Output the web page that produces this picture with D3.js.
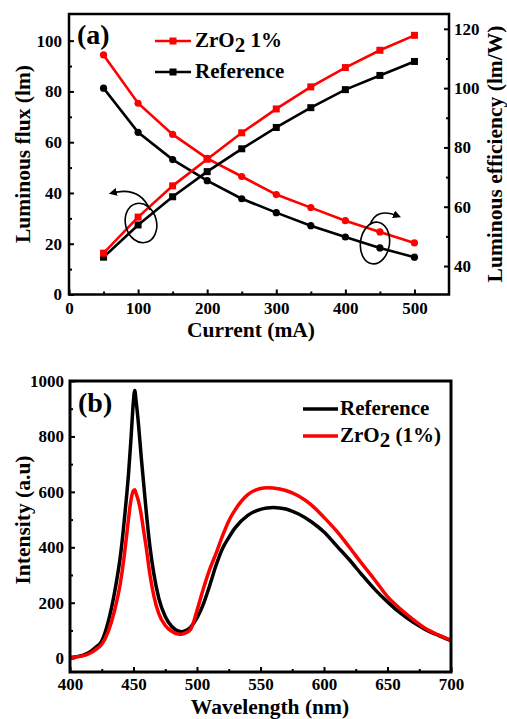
<!DOCTYPE html>
<html><head><meta charset="utf-8">
<script src="https://cdn.jsdelivr.net/npm/d3@7"></script>
<style>
body{margin:0;background:#fff}
svg text{font-family:"Liberation Serif","Times New Roman",serif;font-weight:bold;fill:#000}
</style>
</head><body>
<svg id="c" width="507" height="719"></svg>
<script>
// ---- panel (a): LED output vs drive current ----
const current   = [50,100,150,200,250,300,350,400,450,500];
const fluxZrO2  = [16.3,30.5,42.8,53.3,63.7,73.1,81.8,89.4,96.2,102.1];
const fluxRef   = [14.7,27.4,38.5,48.4,57.4,65.8,73.6,80.7,86.3,91.8];
const effZrO2   = [111.2,94.9,84.4,76.3,70.2,64.1,59.7,55.3,51.5,47.8];
const effRef    = [100.0,85.1,75.9,68.8,62.7,58.0,53.6,49.8,46.1,43.0];
const currentTicks = [0,100,200,300,400,500];
const fluxTicks    = [0,20,40,60,80,100];
const effTicks     = [40,60,80,100,120];

// ---- panel (b): emission spectra ----
const wavelength = [400,405,410,415,420,425,430,435,440,443,446,448,450,451,452,454,456,458,460,463,466,470,475,480,485,488,490,495,500,505,510,515,520,525,530,540,550,555,560,570,580,590,600,610,620,630,640,650,660,670,680,690,700];
const intensityRef  = [2,5,10,20,38,62,130,235,380,510,660,790,930,966,930,840,730,630,530,400,305,215,150,115,98,95,97,112,145,195,262,335,395,435,470,515,537,542,544,538,520,492,455,405,355,300,248,203,163,130,103,82,63];
const intensityZrO2 = [2,4,8,16,30,50,95,170,280,380,500,570,605,608,595,565,520,460,400,300,225,160,118,97,87,86,89,104,172,250,320,378,440,495,535,590,612,615,614,605,585,553,508,458,400,340,282,222,178,140,107,84,65];
const waveTicks = [400,450,500,550,600,650,700];
const intTicks  = [0,200,400,600,800,1000];

const RED = "#ff0000", BLACK = "#000";
const FONT = "'Liberation Serif','Times New Roman',serif";
const TICK_FS = 17, TITLE_FS = 21.5, LEGEND_FS = 21;
const svg = d3.select("#c");
const fmt = d3.format("d");

function subscriptLabel(sel, parts) {
  // parts: [text, isSub]; a subscript drops below the baseline, the next part returns to it
  let prevSub = false;
  parts.forEach(([t, sub]) => {
    const ts = sel.append("tspan").text(t);
    if (sub) ts.attr("dy", 5);
    else if (prevSub) ts.attr("dy", -5);
    prevSub = sub;
  });
}

function styleAxis(g) {
  g.attr("font-family", FONT).attr("font-size", TICK_FS);
  g.select(".domain").remove();
  g.selectAll("line").attr("stroke", "#000").attr("stroke-width", 2);
  g.selectAll("text").style("font-family", FONT).style("font-size", TICK_FS + "px").style("font-weight", "bold");
}

function label(g, x, y, fs, txt, anchor, rot) {
  const t = g.append("text").style("font-family", FONT).style("font-weight","bold").style("font-size", fs+"px");
  if (rot) t.attr("transform", `translate(${x},${y}) rotate(${rot})`);
  else t.attr("x", x).attr("y", y);
  if (anchor) t.attr("text-anchor", anchor);
  if (txt) t.text(txt);
  return t;
}

function legendRow(g, x1, x2, y, color, marker, tx, parts, lw) {
  g.append("line").attr("x1",x1).attr("x2",x2).attr("y1",y).attr("y2",y).attr("stroke",color).attr("stroke-width",lw);
  if (marker === "square")
    g.append("rect").attr("x",(x1+x2)/2-3.5).attr("y",y-3.5).attr("width",7).attr("height",7).attr("fill",color);
  subscriptLabel(label(g, tx, y+6, LEGEND_FS), parts);
}

// ================= Panel (a) =================
const A = {l:69, r:449, t:14, b:294.5};
const xA = d3.scaleLinear().domain([0,550]).range([A.l, A.r]);
const yL = d3.scaleLinear().domain([0,110.5]).range([A.b, A.t]);
const yR = d3.scaleLinear().domain([30.4,125]).range([A.b, A.t]);

const gA = svg.append("g");
// major and minor ticks, all pointing inward
gA.append("g").attr("transform", `translate(0,${A.b})`)
  .call(d3.axisBottom(xA).tickValues(currentTicks).tickFormat(fmt).tickSize(-5).tickPadding(7)).call(styleAxis);
gA.append("g").attr("transform", `translate(0,${A.b})`)
  .call(d3.axisBottom(xA).tickValues(d3.range(50,550,100)).tickSize(-3).tickFormat("")).call(styleAxis);
gA.append("g").attr("transform", `translate(${A.l},0)`)
  .call(d3.axisLeft(yL).tickValues(fluxTicks).tickFormat(fmt).tickSize(-5).tickPadding(7)).call(styleAxis);
gA.append("g").attr("transform", `translate(${A.l},0)`)
  .call(d3.axisLeft(yL).tickValues(d3.range(10,110,20)).tickSize(-3).tickFormat("")).call(styleAxis);
gA.append("g").attr("transform", `translate(${A.r},0)`)
  .call(d3.axisRight(yR).tickValues(effTicks).tickFormat(fmt).tickSize(-5).tickPadding(5)).call(styleAxis);
gA.append("g").attr("transform", `translate(${A.r},0)`)
  .call(d3.axisRight(yR).tickValues(d3.range(50,125,20)).tickSize(-3).tickFormat("")).call(styleAxis);

gA.append("rect").attr("x", A.l).attr("y", A.t).attr("width", A.r-A.l).attr("height", A.b-A.t)
  .attr("fill", "none").attr("stroke", "#000").attr("stroke-width", 2.5);

function series(g, xs, ys, xS, yS, color, marker) {
  const pts = xs.map((x,i) => [xS(x), yS(ys[i])]);
  g.append("path").attr("d", d3.line()(pts)).attr("fill","none")
    .attr("stroke", color).attr("stroke-width", 2.6);
  if (marker === "square") {
    g.selectAll(null).data(pts).join("rect")
      .attr("x", d => d[0]-3.5).attr("y", d => d[1]-3.5).attr("width",7).attr("height",7).attr("fill", color);
  } else {
    g.selectAll(null).data(pts).join("circle")
      .attr("cx", d => d[0]).attr("cy", d => d[1]).attr("r", 3.6).attr("fill", color);
  }
}
series(gA, current, effRef,   xA, yR, BLACK, "circle");
series(gA, current, effZrO2,  xA, yR, RED,   "circle");
series(gA, current, fluxRef,  xA, yL, BLACK, "square");
series(gA, current, fluxZrO2, xA, yL, RED,   "square");

// ellipses marking each family of curves, with arrows toward the axis it belongs to
const defs = svg.append("defs");
defs.append("marker").attr("id","ah").attr("viewBox","0 0 10 10").attr("refX",6).attr("refY",5)
  .attr("markerWidth",5).attr("markerHeight",5).attr("orient","auto")
  .append("path").attr("d","M0,0 L10,5 L0,10 Z").attr("fill","#000");
gA.append("ellipse").attr("cx",141).attr("cy",223).attr("rx",15.5).attr("ry",20).attr("transform","rotate(-15,141,223)")
  .attr("fill","none").attr("stroke","#000").attr("stroke-width",1.6);
gA.append("path").attr("d","M150,210 Q140,186 112,193").attr("fill","none").attr("stroke","#000")
  .attr("stroke-width",1.6).attr("marker-end","url(#ah)");
gA.append("ellipse").attr("cx",375).attr("cy",243).attr("rx",14.5).attr("ry",21).attr("transform","rotate(8,375,243)")
  .attr("fill","none").attr("stroke","#000").attr("stroke-width",1.6);
gA.append("path").attr("d","M370,225 Q376,207 398,216").attr("fill","none").attr("stroke","#000")
  .attr("stroke-width",1.6).attr("marker-end","url(#ah)");

label(gA, 77, 44, 28, "(a)");
legendRow(gA, 155, 191, 41, RED, "square", 195, [["ZrO",false],["2",true],[" 1%",false]], 2.6);
legendRow(gA, 155, 191, 72, BLACK, "square", 195, [["Reference",false]], 2.6);

label(gA, 30, 154, TITLE_FS, "Luminous flux (lm)", "middle", -90);
label(gA, 502, 154, TITLE_FS, "Luminous efficiency (lm/W)", "middle", -90);
label(gA, 251, 337, TITLE_FS, "Current (mA)", "middle");

// ================= Panel (b) =================
const B = {l:70, r:451, t:381, b:672};
const xB = d3.scaleLinear().domain([400,700]).range([B.l, B.r]);
const yB = d3.scaleLinear().domain([-50,1000]).range([B.b, B.t]);
const gB = svg.append("g");

gB.append("g").attr("transform", `translate(0,${B.b})`)
  .call(d3.axisBottom(xB).tickValues(waveTicks).tickFormat(fmt).tickSize(-5).tickPadding(6)).call(styleAxis);
gB.append("g").attr("transform", `translate(0,${B.b})`)
  .call(d3.axisBottom(xB).tickValues(d3.range(425,700,50)).tickSize(-3).tickFormat("")).call(styleAxis);
gB.append("g").attr("transform", `translate(${B.l},0)`)
  .call(d3.axisLeft(yB).tickValues(intTicks).tickFormat(fmt).tickSize(-5).tickPadding(6)).call(styleAxis);
gB.append("g").attr("transform", `translate(${B.l},0)`)
  .call(d3.axisLeft(yB).tickValues(d3.range(100,1000,200)).tickSize(-3).tickFormat("")).call(styleAxis);

const spec = d3.line().x((d,i) => xB(wavelength[i])).y(d => yB(d)).curve(d3.curveMonotoneX);
gB.append("path").attr("d", spec(intensityRef)).attr("fill","none").attr("stroke",BLACK).attr("stroke-width",3.5);
gB.append("path").attr("d", spec(intensityZrO2)).attr("fill","none").attr("stroke",RED).attr("stroke-width",3.5);

gB.append("rect").attr("x", B.l).attr("y", B.t).attr("width", B.r-B.l).attr("height", B.b-B.t)
  .attr("fill","none").attr("stroke","#000").attr("stroke-width",3);

label(gB, 78, 412, 28, "(b)");
legendRow(gB, 303, 338, 409, BLACK, "none", 340, [["Reference",false]], 3.5);
legendRow(gB, 303, 338, 436, RED, "none", 340, [["ZrO",false],["2",true],[" (1%)",false]], 3.5);

label(gB, 30, 520, TITLE_FS, "Intensity (a.u)", "middle", -90);
label(gB, 270, 714, TITLE_FS, "Wavelength (nm)", "middle");
</script>
</body></html>
